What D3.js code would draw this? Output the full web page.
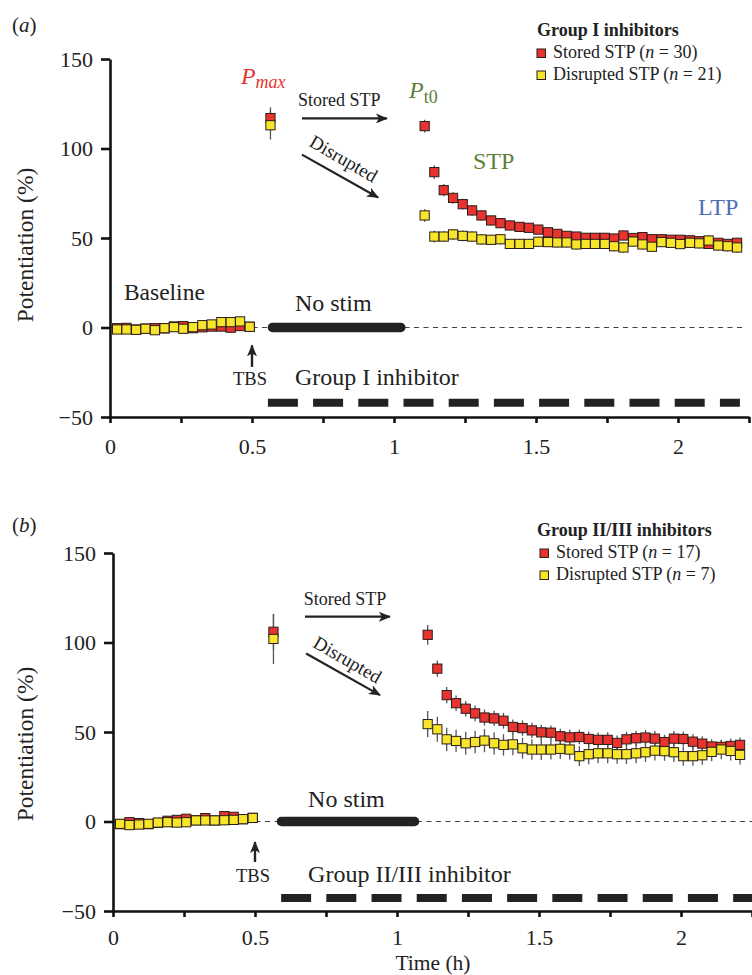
<!DOCTYPE html>
<html>
<head>
<meta charset="utf-8">
<script src="https://cdn.jsdelivr.net/npm/d3@7"></script>
<style>
body { margin: 0; background: #fff; }
svg text { font-family: "Liberation Serif", "Times New Roman", serif; fill: #222; }
</style>
</head>
<body>
<svg id="svg"></svg>
<script>
const W = 752, H = 975;

// sample times (h)
const baseTimes = [0.025, 0.058, 0.092, 0.125, 0.158, 0.192, 0.225, 0.258, 0.292, 0.325, 0.358, 0.392, 0.425, 0.458, 0.492];
const pmaxTime = 0.565;
const postTimes = [1.108, 1.142, 1.175, 1.208, 1.242, 1.275, 1.308, 1.342, 1.375, 1.408, 1.442, 1.475, 1.508, 1.542, 1.575, 1.608, 1.642,
  1.675, 1.708, 1.742, 1.775, 1.808, 1.842, 1.875, 1.908, 1.942, 1.975, 2.008, 2.042, 2.075, 2.108, 2.142, 2.175, 2.208];

// panel (a) group I inhibitors
const aBaseStored = [-0.4, -0.2, -1.1, -0.6, -0.4, -0.5, 0.6, 0.8, -0.4, 0.1, 0.5, 0.5, -0.1, 0.8, 0.4];
const aBaseStoredErr = [1.2, 1.1, 1.2, 1.0, 1.2, 1.1, 1.3, 1.2, 1.1, 1.3, 1.2, 1.4, 1.3, 1.4, 1.2];
const aBaseDisrupted = [-1.1, -1.1, -1.3, -0.7, -1.5, -0.4, 0.2, -0.7, 0.2, 1.3, 1.7, 3.0, 3.0, 3.4, 0.4];
const aBaseDisruptedErr = [1.4, 1.3, 1.4, 1.2, 1.5, 1.3, 1.4, 1.5, 1.3, 1.6, 1.5, 1.7, 1.6, 1.8, 1.4];
const aPmax = [117, 113];
const aPmaxErr = [6, 8];
const aPostStored = [112.5, 86.8, 76.7, 72.4, 68.9, 65.4, 62.6, 59.8, 58.3, 57.0, 56.2, 55.7, 54.7, 53.2, 52.3, 51.2, 50.8,
  50.1, 50.1, 50.1, 49.7, 51.4, 50.0, 50.5, 49.3, 49.3, 49.0, 49.0, 48.7, 48.2, 46.7, 47.3, 46.7, 47.3];
const aPostStoredErr = [3.6, 3.8, 3.4, 3.2, 3.0, 3.0, 2.9, 2.8, 2.8, 2.7, 2.7, 2.7, 2.6, 2.6, 2.6, 2.6, 2.5,
  2.5, 2.5, 2.5, 2.6, 2.6, 2.5, 2.6, 2.6, 2.5, 2.5, 2.6, 2.6, 2.6, 2.7, 2.7, 2.7, 2.8];
const aPostDisrupted = [62.6, 50.8, 50.8, 52.0, 51.2, 50.8, 49.2, 49.0, 49.3, 46.7, 46.7, 46.7, 47.9, 47.7, 47.5, 47.5, 46.4,
  46.7, 46.7, 46.7, 45.4, 44.7, 48.0, 46.4, 45.1, 47.7, 47.3, 46.6, 47.3, 47.0, 48.6, 45.8, 45.4, 44.7];
const aPostDisruptedErr = [3.5, 3.3, 3.1, 3.0, 3.0, 2.9, 2.9, 2.8, 2.9, 2.8, 2.8, 2.8, 2.8, 2.7, 2.8, 2.8, 2.8,
  2.8, 2.7, 2.8, 2.9, 2.9, 2.8, 2.8, 2.9, 2.8, 2.8, 2.8, 2.9, 2.8, 2.9, 2.9, 2.9, 3.0];

// panel (b) group II/III inhibitors
const bBaseStored = [-1.5, -0.4, -0.9, -1.5, -0.8, 0.4, 0.9, 1.5, 0.7, 1.9, 0.6, 3.0, 2.6, 1.3, 2.0];
const bBaseStoredErr = [1.3, 1.2, 1.3, 1.2, 1.3, 1.4, 1.3, 1.5, 1.4, 1.5, 1.4, 1.6, 1.5, 1.4, 1.5];
const bBaseDisrupted = [-1.3, -2.0, -1.7, -1.3, -0.6, -0.4, -0.6, -0.4, 0.6, 0.6, 0.6, 0.7, 0.9, 1.3, 2.0];
const bBaseDisruptedErr = [1.6, 1.8, 1.7, 1.6, 1.5, 1.6, 1.7, 1.6, 1.8, 1.7, 1.6, 1.8, 1.7, 1.8, 1.9];
const bPmax = [106, 102];
const bPmaxErr = [10, 14];
const bPostStored = [104.3, 85.4, 70.6, 66.1, 63.0, 60.4, 58.1, 57.6, 56.3, 52.8, 52.2, 50.9, 49.8, 49.6, 47.6, 47.0, 47.2,
  46.1, 45.6, 45.6, 43.9, 45.9, 46.5, 46.9, 46.3, 44.4, 46.3, 46.1, 44.6, 43.5, 41.9, 41.7, 42.2, 42.8];
const bPostStoredErr = [5.5, 4.6, 4.5, 4.3, 4.3, 4.4, 4.5, 4.3, 4.4, 4.2, 4.3, 4.2, 4.2, 4.1, 4.2, 4.2, 4.1,
  4.2, 4.1, 4.2, 4.1, 4.2, 4.2, 4.3, 4.2, 4.1, 4.2, 4.2, 4.1, 4.1, 4.0, 4.0, 4.1, 4.1];
const bPostDisrupted = [54.4, 51.5, 45.9, 45.0, 43.7, 44.4, 45.2, 43.7, 42.8, 43.1, 40.9, 40.2, 40.2, 40.2, 40.6, 40.2, 36.5,
  37.6, 38.1, 38.1, 37.6, 37.6, 38.1, 38.7, 39.6, 39.3, 38.7, 36.5, 36.5, 37.0, 38.9, 40.2, 39.4, 37.2];
const bPostDisruptedErr = [7.4, 7.0, 6.5, 6.2, 6.4, 6.3, 6.5, 6.2, 6.0, 6.1, 5.8, 5.7, 5.8, 5.6, 5.7, 5.6, 5.5,
  5.6, 5.5, 5.5, 5.4, 5.5, 5.5, 5.4, 5.5, 5.4, 5.4, 5.3, 5.4, 5.3, 5.3, 5.4, 5.3, 5.4];

const xTicks = [0, 0.25, 0.5, 0.75, 1, 1.25, 1.5, 1.75, 2, 2.25];
const xTickLabels = ["0", "", "0.5", "", "1", "", "1.5", "", "2", ""];
const yTicks = [-50, 0, 50, 100, 150];
const yTickLabels = ["\u221250", "0", "50", "100", "150"];

const RED = "#e8332e", YELLOW = "#f6e52a", GREEN = "#5b7f38", BLUE = "#4f6db5", INK = "#222";

const svg = d3.select("#svg").attr("width", W).attr("height", H);

const defs = svg.append("defs");
defs.append("marker").attr("id", "head")
  .attr("viewBox", "0 0 12 10").attr("refX", 11).attr("refY", 5)
  .attr("markerWidth", 12).attr("markerHeight", 10)
  .attr("markerUnits", "userSpaceOnUse").attr("orient", "auto")
  .append("path").attr("d", "M0,0 L12,5 L0,10 L3,5 Z").attr("fill", INK);

function series(base, baseErr, pmax, pmaxErr, post, postErr) {
  const out = base.map((v, i) => ({ t: baseTimes[i], v: v, e: baseErr[i] }));
  out.push({ t: pmaxTime, v: pmax, e: pmaxErr });
  post.forEach((v, i) => out.push({ t: postTimes[i], v: v, e: postErr[i] }));
  return out;
}

function panel(cfg) {
  const g = svg.append("g");
  const x = d3.scaleLinear().domain([0, 2.25]).range([cfg.x0, cfg.x0 + 639]);
  const y = d3.scaleLinear().domain([-50, 150]).range([cfg.yBot, cfg.yBot - 358]);

  // zero reference line
  g.append("line")
    .attr("x1", x(0)).attr("x2", cfg.zeroEnd).attr("y1", y(0)).attr("y2", y(0))
    .attr("stroke", "#444").attr("stroke-width", 1.2).attr("stroke-dasharray", "5,4.5");

  // no stim bar
  g.append("line")
    .attr("x1", x(cfg.noStim[0])).attr("x2", x(cfg.noStim[1])).attr("y1", y(0)).attr("y2", y(0))
    .attr("stroke", INK).attr("stroke-width", 9.5).attr("stroke-linecap", "round");

  // inhibitor application bar
  g.append("line")
    .attr("x1", x(cfg.drug[0])).attr("x2", Math.min(x(cfg.drug[1]), W)).attr("y1", y(cfg.drugY)).attr("y2", y(cfg.drugY))
    .attr("stroke", INK).attr("stroke-width", 8).attr("stroke-dasharray", "30,15.2");

  // axes
  const ya = g.append("g").attr("transform", `translate(${x(0)},0)`)
    .call(d3.axisLeft(y).tickValues(yTicks).tickFormat((d, i) => yTickLabels[i]).tickSize(9).tickSizeOuter(0).tickPadding(8));
  const xa = g.append("g").attr("transform", `translate(0,${y(-50)})`)
    .call(d3.axisBottom(x).tickValues(xTicks).tickFormat((d, i) => xTickLabels[i]).tickSize(6).tickSizeOuter(0).tickPadding(cfg.xPad));
  [ya, xa].forEach(a => {
    a.select(".domain").attr("stroke", "#111").attr("stroke-width", 2.6);
    a.selectAll(".tick line").attr("stroke", "#111").attr("stroke-width", 2.6);
    a.selectAll("text").attr("font-size", 22).attr("fill", INK)
      .attr("font-family", "'Liberation Serif', 'Times New Roman', serif");
  });

  g.append("text").attr("transform", `translate(33,${cfg.yLabelY}) rotate(-90)`)
    .attr("text-anchor", "middle").attr("font-size", 23.5).text("Potentiation (%)");

  // panel letter
  const lt = g.append("text").attr("x", 12).attr("y", cfg.letterY).attr("font-size", 21);
  lt.append("tspan").text("(");
  lt.append("tspan").attr("font-style", "italic").text(cfg.letter);
  lt.append("tspan").text(")");

  // data
  const both = [cfg.stored, cfg.disrupted];
  const colors = [RED, YELLOW];
  both.forEach(d => {
    g.append("g").selectAll("line").data(d).join("line")
      .attr("x1", p => x(p.t)).attr("x2", p => x(p.t))
      .attr("y1", p => y(p.v - p.e)).attr("y2", p => y(p.v + p.e))
      .attr("stroke", "#555").attr("stroke-width", 1.3);
  });
  both.forEach((d, k) => {
    g.append("g").selectAll("rect").data(d).join("rect")
      .attr("x", p => x(p.t) - 4.6).attr("y", p => y(p.v) - 4.6)
      .attr("width", 9.2).attr("height", 9.2)
      .attr("fill", colors[k]).attr("stroke", "#2a1d1a").attr("stroke-width", 1);
  });

  // arrows and labels
  g.append("text").attr("x", x(cfg.storedTxt[0])).attr("y", y(cfg.storedTxt[1]))
    .attr("font-size", 18).text("Stored STP");
  g.append("line").attr("x1", x(cfg.arrowS[0])).attr("y1", y(cfg.arrowS[1]))
    .attr("x2", x(cfg.arrowS[2])).attr("y2", y(cfg.arrowS[3]))
    .attr("stroke", INK).attr("stroke-width", 2.2).attr("marker-end", "url(#head)");
  g.append("text")
    .attr("transform", `translate(${x(cfg.disTxt[0])},${y(cfg.disTxt[1])}) rotate(30)`)
    .attr("font-size", 19).text("Disrupted");
  g.append("line").attr("x1", x(cfg.arrowD[0])).attr("y1", y(cfg.arrowD[1]))
    .attr("x2", x(cfg.arrowD[2])).attr("y2", y(cfg.arrowD[3]))
    .attr("stroke", INK).attr("stroke-width", 2.2).attr("marker-end", "url(#head)");

  g.append("text").attr("x", x(cfg.noStimTxt[0])).attr("y", y(cfg.noStimTxt[1]))
    .attr("font-size", 24).text("No stim");
  g.append("line").attr("x1", x(0.5)).attr("x2", x(0.5))
    .attr("y1", y(cfg.tbsArrow[0])).attr("y2", y(cfg.tbsArrow[1]))
    .attr("stroke", INK).attr("stroke-width", 2.4).attr("marker-end", "url(#head)");
  g.append("text").attr("x", x(0.5) - 2).attr("y", y(cfg.tbsY)).attr("text-anchor", "middle")
    .attr("font-size", 18.5).text("TBS");
  g.append("text").attr("x", x(cfg.drugTxt[0])).attr("y", y(cfg.drugTxt[1]))
    .attr("font-size", 24).text(cfg.drugName);

  // legend
  const lg = g.append("g").attr("transform", `translate(${cfg.legend[0]},${cfg.legend[1]})`);
  lg.append("text").attr("x", 0).attr("y", 0).attr("font-size", 18).attr("font-weight", "bold").text(cfg.legendTitle);
  cfg.legendItems.forEach((it, i) => {
    lg.append("rect").attr("x", cfg.legendBox).attr("y", 13 + i * 22).attr("width", 8.5).attr("height", 8.5)
      .attr("fill", colors[i]).attr("stroke", "#2a1d1a").attr("stroke-width", 1);
    const t = lg.append("text").attr("x", cfg.legendTxt).attr("y", 22 + i * 22).attr("font-size", 18);
    t.append("tspan").text(it[0]);
    t.append("tspan").attr("font-style", "italic").text("n");
    t.append("tspan").text(it[1]);
  });

  return { g, x, y };
}

const pa = panel({
  x0: 110, yBot: 417, zeroEnd: 742, letter: "a", letterY: 32, yLabelY: 245, xPad: 15,
  stored: series(aBaseStored, aBaseStoredErr, aPmax[0], aPmaxErr[0], aPostStored, aPostStoredErr),
  disrupted: series(aBaseDisrupted, aBaseDisruptedErr, aPmax[1], aPmaxErr[1], aPostDisrupted, aPostDisruptedErr),
  noStim: [0.572, 1.024], drug: [0.556, 2.218], drugY: -42,
  storedTxt: [0.662, 123.5], arrowS: [0.676, 116.8, 0.975, 116.8],
  disTxt: [0.697, 101.7], arrowD: [0.676, 96.6, 0.944, 72.6],
  noStimTxt: [0.651, 9.1], tbsArrow: [-22, -10], tbsY: -32,
  drugTxt: [0.651, -32.2], drugName: "Group I inhibitor",
  legend: [537, 36], legendTitle: "Group I inhibitors", legendBox: 0, legendTxt: 16,
  legendItems: [["Stored STP (", " = 30)"], ["Disrupted STP (", " = 21)"]]
});

// extra labels of panel (a)
const pm = pa.g.append("text").attr("x", pa.x(0.461)).attr("y", pa.y(136)).style("fill", RED);
pm.append("tspan").attr("font-style", "italic").attr("font-size", 24).text("P");
pm.append("tspan").attr("font-style", "italic").attr("font-size", 18).attr("dy", 4).text("max");
const pt = pa.g.append("text").attr("x", pa.x(1.053)).attr("y", pa.y(128)).style("fill", GREEN);
pt.append("tspan").attr("font-style", "italic").attr("font-size", 24).text("P");
pt.append("tspan").attr("font-size", 18).attr("dy", 5).text("t0");
pa.g.append("text").attr("x", pa.x(1.278)).attr("y", pa.y(88.3)).attr("font-size", 24).style("fill", GREEN).text("STP");
pa.g.append("text").attr("x", pa.x(2.07)).attr("y", pa.y(62.6)).attr("font-size", 24).style("fill", BLUE).text("LTP");
pa.g.append("text").attr("x", pa.x(0.049)).attr("y", pa.y(15.6)).attr("font-size", 23.5).text("Baseline");

const pb = panel({
  x0: 113, yBot: 911, zeroEnd: 752, letter: "b", letterY: 532, yLabelY: 744, xPad: 12,
  stored: series(bBaseStored, bBaseStoredErr, bPmax[0], bPmaxErr[0], bPostStored, bPostStoredErr),
  disrupted: series(bBaseDisrupted, bBaseDisruptedErr, bPmax[1], bPmaxErr[1], bPostDisrupted, bPostDisruptedErr),
  noStim: [0.593, 1.062], drug: [0.592, 2.3], drugY: -42.8,
  storedTxt: [0.672, 121], arrowS: [0.676, 114.4, 0.975, 114.4],
  disTxt: [0.70, 97.8], arrowD: [0.68, 93.9, 0.94, 70.6],
  noStimTxt: [0.687, 7.9], tbsArrow: [-22.6, -11.5], tbsY: -33.7,
  drugTxt: [0.687, -33.7], drugName: "Group II/III inhibitor",
  legend: [537, 536], legendTitle: "Group II/III inhibitors", legendBox: 3, legendTxt: 19,
  legendItems: [["Stored STP (", " = 17)"], ["Disrupted STP  (", " = 7)"]]
});

pb.g.append("text").attr("x", 433).attr("y", 970).attr("text-anchor", "middle")
  .attr("font-size", 21.5).text("Time (h)");
</script>
</body>
</html>
